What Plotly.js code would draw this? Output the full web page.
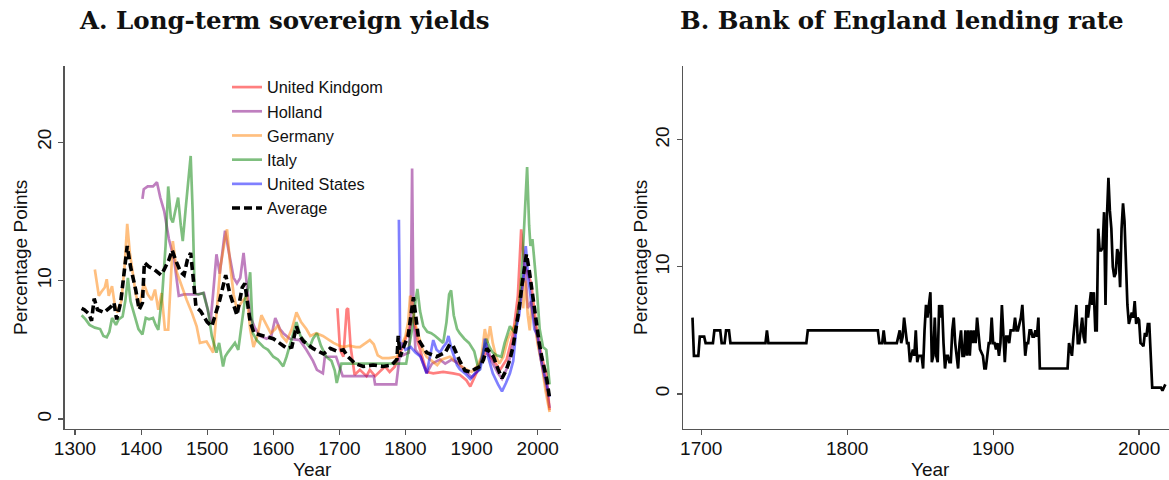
<!DOCTYPE html>
<html>
<head>
<meta charset="utf-8">
<script src="https://cdn.plot.ly/plotly-3.0.1.min.js"></script>
<style>html,body{margin:0;padding:0;background:#fff;}#chart{width:1169px;height:480px;}</style>
</head>
<body>
<div id="chart"></div>
<script>
// ---- Data (year, percentage points) ----
const seriesNames = ["United Kindgom", "Holland", "Germany", "Italy", "United States", "Average"];

const ukSeries = [[1697,8.0],[1701,5.0],[1706,4.5],[1711,7.9],[1713,8.0],[1717,5.2],[1723,3.2],[1731,3.55],[1741,3.1],[1746,3.55],[1754,3.1],[1761,3.4],[1769,3.8],[1776,3.4],[1784,3.8],[1789,4.5],[1794,5.0],[1807,6.7],[1812,7.4],[1819,5.5],[1827,4.3],[1832,3.4],[1842,3.3],[1857,3.4],[1872,3.3],[1882,3.2],[1892,2.8],[1898,2.35],[1907,3.3],[1917,4.5],[1922,4.8],[1932,4.3],[1943,3.55],[1953,4.3],[1963,6.2],[1970,8.9],[1975,13.7],[1980,11.0],[1985,10.6],[1990,9.8],[1998,6.7],[2006,4.5],[2013,3.3],[2018,0.65]];

const hollandSeries = [[1402,15.9],[1404,16.6],[1410,16.8],[1418,16.8],[1424,17.1],[1429,16.0],[1435,15.0],[1442,13.0],[1450,11.5],[1457,8.9],[1465,9.0],[1475,9.0],[1485,9.0],[1495,9.1],[1500,8.0],[1505,7.0],[1509,9.1],[1514,11.9],[1519,10.5],[1527,13.6],[1533,12.0],[1540,10.2],[1545,9.8],[1550,10.2],[1555,12.0],[1560,9.5],[1565,7.4],[1572,6.6],[1580,6.0],[1590,5.8],[1597,6.0],[1603,7.3],[1610,6.5],[1615,6.2],[1625,5.8],[1640,5.7],[1650,5.0],[1660,4.2],[1666,3.55],[1675,3.3],[1678,4.5],[1695,4.5],[1700,3.8],[1705,3.1],[1752,3.1],[1754,2.5],[1786,2.5],[1791,4.5],[1805,4.8],[1808,8.0],[1810,18.1],[1812,8.0],[1815,5.0],[1822,4.6],[1832,3.3],[1840,4.0],[1852,4.3],[1860,4.0],[1870,4.3],[1880,4.0],[1890,3.5],[1900,3.0],[1910,3.5],[1918,5.0],[1922,5.5],[1930,4.2],[1940,3.3],[1946,2.9],[1955,3.8],[1965,6.0],[1970,7.8],[1975,9.0],[1981,11.0],[1985,8.0],[1990,8.5],[1995,7.0],[2000,5.5],[2006,4.0],[2012,2.5],[2018,0.8]];

const germanySeries = [[1330,10.8],[1333,9.8],[1336,8.9],[1340,9.2],[1345,9.5],[1348,10.1],[1351,8.9],[1356,9.6],[1360,8.3],[1364,7.7],[1370,8.5],[1375,11.0],[1379,14.1],[1383,12.0],[1387,10.6],[1392,9.0],[1397,8.1],[1404,9.8],[1410,9.0],[1416,8.6],[1421,9.35],[1426,7.9],[1431,9.1],[1436,6.45],[1441,6.45],[1445,10.0],[1448,12.85],[1454,10.6],[1461,9.6],[1469,8.6],[1477,7.65],[1484,6.7],[1489,5.5],[1499,5.6],[1509,4.8],[1515,8.0],[1520,11.0],[1527,13.0],[1530,13.7],[1535,11.0],[1540,9.0],[1545,7.9],[1553,8.5],[1560,8.9],[1565,6.5],[1570,5.2],[1576,6.0],[1582,7.5],[1590,6.8],[1596,6.2],[1603,6.5],[1607,6.8],[1613,6.0],[1620,5.6],[1628,6.5],[1635,7.7],[1642,7.0],[1650,6.5],[1656,6.0],[1665,6.2],[1675,6.0],[1685,5.7],[1691,5.5],[1700,5.3],[1706,5.2],[1715,5.3],[1725,5.2],[1731,5.2],[1740,5.5],[1746,5.7],[1752,5.4],[1758,4.6],[1765,4.4],[1775,4.4],[1787,4.5],[1793,5.2],[1800,6.0],[1804,7.0],[1807,8.9],[1810,8.5],[1814,7.0],[1820,6.0],[1826,5.0],[1832,4.5],[1840,4.2],[1848,3.9],[1855,4.3],[1867,4.5],[1875,4.2],[1885,3.8],[1895,3.5],[1900,3.4],[1908,3.8],[1915,4.5],[1920,6.5],[1924,5.5],[1928,6.7],[1932,5.5],[1937,4.5],[1942,4.0],[1948,4.5],[1955,5.8],[1962,6.5],[1968,7.0],[1972,8.5],[1975,10.2],[1978,8.0],[1981,10.0],[1985,7.5],[1988,6.4],[1991,8.5],[1995,7.0],[2000,5.4],[2006,4.0],[2012,2.0],[2018,0.5]];

const italySeries = [[1310,7.5],[1316,7.2],[1322,6.8],[1330,6.6],[1338,6.5],[1343,6.0],[1348,5.9],[1352,6.3],[1356,7.3],[1362,6.8],[1366,7.2],[1372,7.4],[1376,8.5],[1380,10.2],[1384,8.5],[1390,7.5],[1396,6.5],[1402,6.1],[1407,7.3],[1412,7.2],[1418,7.3],[1422,6.8],[1426,6.45],[1432,9.0],[1437,12.5],[1441,16.8],[1445,14.5],[1448,14.2],[1452,15.0],[1456,16.0],[1460,14.0],[1463,12.85],[1468,15.5],[1472,17.8],[1475,19.0],[1478,15.0],[1481,9.1],[1487,9.0],[1494,9.1],[1501,7.9],[1507,6.0],[1514,4.8],[1518,5.5],[1524,3.8],[1527,4.5],[1531,4.8],[1537,5.2],[1542,5.5],[1547,5.0],[1552,7.0],[1557,8.6],[1562,9.5],[1565,10.6],[1569,6.2],[1575,5.7],[1585,5.2],[1592,5.0],[1600,4.5],[1607,4.3],[1615,3.8],[1620,4.5],[1628,5.8],[1635,7.0],[1641,6.0],[1648,5.6],[1655,5.2],[1660,5.8],[1666,6.2],[1672,5.3],[1680,4.5],[1688,4.2],[1693,3.5],[1696,2.6],[1700,3.5],[1703,4.0],[1801,4.0],[1805,5.0],[1810,6.5],[1815,8.5],[1818,9.4],[1822,7.8],[1827,6.7],[1833,6.3],[1839,6.2],[1845,6.0],[1850,5.8],[1857,5.5],[1862,7.0],[1866,9.0],[1869,9.3],[1873,7.5],[1878,6.5],[1882,6.2],[1889,5.8],[1896,5.5],[1904,4.9],[1911,3.5],[1916,4.5],[1922,5.8],[1927,5.2],[1932,4.8],[1938,4.6],[1945,4.5],[1950,5.5],[1958,6.7],[1966,6.2],[1973,8.6],[1977,11.5],[1981,15.4],[1984,18.2],[1987,14.0],[1989,12.5],[1992,13.0],[1995,11.5],[1998,9.8],[2003,6.5],[2008,5.2],[2013,5.0],[2015,4.0],[2018,2.5]];

const usSeries = [[1790,14.4],[1792,5.0],[1795,5.5],[1800,5.0],[1808,5.2],[1815,4.8],[1823,4.5],[1828,3.8],[1832,3.3],[1837,4.5],[1842,5.7],[1847,5.0],[1852,4.8],[1857,5.2],[1862,5.5],[1865,6.0],[1870,5.0],[1878,3.9],[1882,3.6],[1890,3.3],[1898,2.9],[1905,3.3],[1913,3.6],[1918,4.8],[1920,5.8],[1925,4.5],[1932,3.3],[1940,2.5],[1946,2.0],[1952,2.6],[1958,3.3],[1963,4.2],[1968,6.7],[1972,7.5],[1976,9.3],[1979,10.5],[1982,12.5],[1985,10.6],[1990,8.5],[1995,6.5],[2000,6.0],[2005,4.3],[2010,3.2],[2015,2.1],[2018,1.6]];

const averageSeries = [[1310,8.0],[1314,7.9],[1321,7.6],[1325,7.1],[1329,8.7],[1334,7.9],[1344,7.7],[1354,8.1],[1359,8.4],[1363,7.2],[1369,8.4],[1379,12.5],[1384,11.0],[1392,9.3],[1397,7.9],[1402,8.4],[1405,11.3],[1412,11.0],[1420,10.8],[1430,10.4],[1435,10.8],[1442,11.5],[1447,12.2],[1452,11.5],[1460,10.6],[1465,10.4],[1470,11.5],[1475,12.0],[1479,10.1],[1483,8.1],[1490,7.8],[1500,7.0],[1507,6.7],[1519,8.6],[1528,10.4],[1534,9.1],[1545,7.5],[1553,9.5],[1557,9.8],[1565,7.0],[1571,6.2],[1585,6.0],[1600,5.8],[1615,5.3],[1621,5.1],[1628,5.2],[1635,6.7],[1640,6.0],[1646,5.6],[1652,5.4],[1660,5.1],[1668,4.9],[1676,4.7],[1686,5.1],[1696,4.9],[1706,5.0],[1713,4.5],[1724,4.0],[1736,3.8],[1751,3.9],[1766,3.8],[1779,3.9],[1787,4.3],[1789,6.0],[1792,4.5],[1797,5.2],[1804,6.0],[1812,8.8],[1816,7.4],[1820,5.7],[1832,4.8],[1847,4.5],[1860,4.8],[1867,5.4],[1872,5.3],[1882,4.2],[1890,3.5],[1898,3.4],[1905,3.6],[1913,3.8],[1918,4.3],[1923,5.1],[1928,4.8],[1933,4.5],[1940,3.6],[1946,2.95],[1952,3.5],[1958,4.3],[1963,5.3],[1968,6.7],[1972,8.0],[1976,9.6],[1980,11.2],[1983,11.9],[1987,10.8],[1991,9.35],[1995,8.0],[1998,6.7],[2002,5.6],[2006,4.5],[2010,3.7],[2014,2.8],[2018,1.5]];

const boeSeries = [[1694,6],[1695,3],[1698,3],[1699,4.5],[1702,4.5],[1703,4],[1708,4],[1709,5],[1713,5],[1714,4],[1716,4],[1717,5],[1719,5],[1720,4],[1744,4],[1745,5],[1746,4],[1772,4],[1773,5],[1821,5],[1822,4],[1824,4],[1825,5],[1826,4],[1834,4],[1836,5],[1837,4],[1838,4.5],[1839,6],[1840,5],[1841,4],[1842,4],[1843,2.5],[1844,3],[1845,3.5],[1846,3],[1847,5],[1848,2.5],[1849,3],[1851,3],[1852,2],[1853,5],[1854,7],[1855,6],[1856,7],[1857,8],[1858,2.5],[1859,3],[1860,6],[1861,3],[1862,2.5],[1863,7],[1864,6],[1865,7],[1866,4],[1867,2],[1868,3],[1869,3],[1870,2.5],[1871,2.5],[1872,5],[1873,6],[1874,4],[1875,3],[1876,2],[1877,4],[1878,5],[1879,3],[1880,3],[1881,5],[1882,3],[1883,5],[1884,3],[1885,5],[1886,4],[1887,5],[1888,4],[1889,6],[1890,4.5],[1891,3.5],[1893,3],[1894,2],[1895,2],[1896,3],[1897,4],[1898,4],[1899,6],[1900,4],[1901,4],[1902,3.5],[1903,4],[1904,3],[1905,4],[1906,7],[1907,4],[1908,2.5],[1909,4.5],[1910,4.5],[1911,4],[1912,5],[1913,5],[1914,5],[1915,6],[1916,5],[1917,5],[1918,5.5],[1919,6],[1920,7],[1921,5],[1922,3],[1923,4],[1924,4],[1925,5],[1926,5],[1927,4.5],[1928,4.5],[1929,5],[1930,4.5],[1931,6],[1932,2],[1951,2],[1952,4],[1953,3.5],[1954,3],[1955,4.5],[1956,5.5],[1957,7],[1958,4],[1959,4],[1960,5],[1961,6],[1962,4.5],[1963,4],[1964,7],[1965,6],[1966,7],[1967,8],[1968,7],[1969,8],[1970,5],[1971,5],[1972,13],[1973,11.3],[1974,11.3],[1975,11.5],[1976,14.3],[1977,7],[1978,14],[1979,17],[1980,14.4],[1981,13],[1982,10],[1983,9.2],[1984,9.5],[1985,11.4],[1986,11],[1987,8.4],[1988,13],[1989,15],[1990,13.6],[1991,10.5],[1992,7],[1993,5.5],[1994,6],[1995,6.4],[1996,6],[1997,7.3],[1998,5.5],[1999,6],[2000,5.8],[2001,4],[2002,3.9],[2003,3.75],[2004,4.8],[2005,4.5],[2006,5.5],[2007,5.5],[2009,0.5],[2015,0.5],[2016,0.25],[2018,0.75]];

const leftTickVals = [1300,1400,1500,1600,1700,1800,1900,2000];
const rightTickVals = [1700,1800,1900,2000];
const yTickVals = [0,10,20];

// ---- Styling ----
const colors = ["rgba(255,0,0,0.5)","rgba(128,0,128,0.5)","rgba(255,128,0,0.5)","rgba(0,128,0,0.5)","rgba(0,0,255,0.5)","#000000"];
const FONT = "Liberation Sans, Arial, sans-serif";
const W = 1169, H = 480;
const px = v => v / W, py = v => 1 - v / H;

function tr(series, i) {
  return {
    x: series.map(p => p[0]), y: series.map(p => p[1]),
    type: "scatter", mode: "lines", name: seriesNames[i],
    xaxis: "x", yaxis: "y",
    line: i === 5 ? {color: colors[i], width: 3.6, dash: "8px,4px"} : {color: colors[i], width: 2.7}
  };
}
const traces = [
  tr(ukSeries,0), tr(hollandSeries,1), tr(germanySeries,2), tr(italySeries,3), tr(usSeries,4), tr(averageSeries,5),
  {x: boeSeries.map(p=>p[0]), y: boeSeries.map(p=>p[1]), type:"scatter", mode:"lines", showlegend:false,
   xaxis:"x2", yaxis:"y2", line:{color:"#000", width:2.7}}
];

const axisCommon = {
  showline: true, linecolor: "#555", linewidth: 1.3, showgrid: false, zeroline: false,
  ticks: "outside", ticklen: 5, tickcolor: "#555", tickwidth: 1.2,
  tickfont: {family: FONT, size: 19, color: "#111"}, fixedrange: true
};
const yDom = [py(429), py(66)];
function ann(text, x, y, size, family, angle) {
  return {text: text, xref:"paper", yref:"paper", x: px(x), y: py(y), xanchor:"center", yanchor:"middle",
          showarrow:false, textangle: angle || 0, font:{family: family, size: size, color:"#111"}};
}
const layout = {
  width: W, height: H, margin: {l:0, r:0, t:0, b:0},
  paper_bgcolor: "#fff", plot_bgcolor: "#fff", showlegend: true,
  xaxis: Object.assign({}, axisCommon, {domain:[px(64.7), px(560.7)], range:[1284.4, 2034.8], tickvals:leftTickVals, anchor:"y", ticklabelstandoff:-3}),
  yaxis: Object.assign({}, axisCommon, {domain:yDom, range:[-0.72, 25.5], tickvals:yTickVals, tickangle:-90, anchor:"x"}),
  xaxis2: Object.assign({}, axisCommon, {domain:[px(683.3), 1], range:[1687.7, 2020.5], tickvals:rightTickVals, anchor:"y2", ticklabelstandoff:-3}),
  yaxis2: Object.assign({}, axisCommon, {domain:yDom, range:[-2.76, 25.8], tickvals:yTickVals, tickangle:-90, anchor:"x2"}),
  legend: {x: px(227), y: py(70), xanchor:"left", yanchor:"top", bgcolor:"rgba(0,0,0,0)", borderwidth:0,
           font:{family: FONT, size: 16.3, color:"#111"}, tracegroupgap: 0},
  annotations: [
    ann("<b>A. Long-term sovereign yields</b>", 284, 21, 24.5, "DejaVu Serif, serif"),
    ann("<b>B. Bank of England lending rate</b>", 902, 21, 24.5, "DejaVu Serif, serif"),
    ann("Percentage Points", 20, 258, 19, FONT, -90),
    ann("Percentage Points", 640, 258, 19, FONT, -90),
    ann("Year", 312, 469, 19, FONT),
    ann("Year", 930, 469, 19, FONT)
  ]
};
Plotly.newPlot("chart", traces, layout, {displayModeBar:false, staticPlot:true});
</script>
</body>
</html>
